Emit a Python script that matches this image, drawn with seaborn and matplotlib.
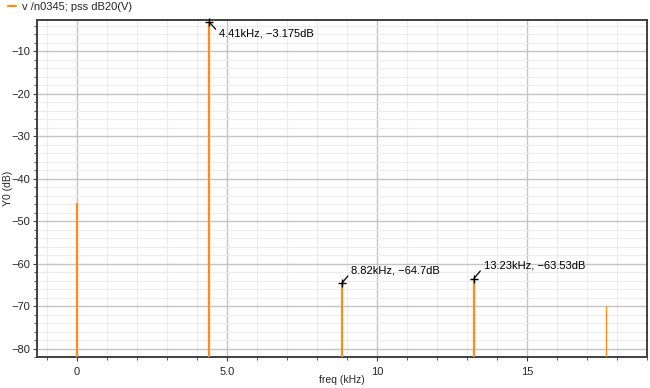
import matplotlib
matplotlib.use("Agg")
import matplotlib.pyplot as plt
from matplotlib.ticker import MultipleLocator, FuncFormatter
from matplotlib.lines import Line2D
import seaborn as sns
import pandas as pd

freq_khz = [0.0, 4.41, 8.82, 13.23, 17.64]
level_db = [-45.8, -3.175, -64.7, -63.53, -70.1]
marked_freq = [4.41, 8.82, 13.23]
marked_db = [-3.175, -64.7, -63.53]
marked_labels = ["4.41kHz, \u22123.175dB", "8.82kHz, \u221264.7dB", "13.23kHz, \u221263.53dB"]
series_name = "v /n0345; pss dB20(V)"

sns.set_style("white")
plt.rcParams["font.family"] = ["Liberation Sans", "DejaVu Sans"]

fig = plt.figure(figsize=(6.5, 3.88), dpi=100)
ax = fig.add_axes([37 / 650, 31 / 388, 610 / 650, 337 / 388])

ymin, ymax = -82.0, -2.7
ax.set_xlim(-1.33, 19.0)
ax.set_ylim(ymin, ymax)

orange = "#ff8c1a"
df = pd.DataFrame({"f": freq_khz, "db": level_db})
lw = [1.6, 1.6, 1.6, 1.6, 1.0]
for f, d, w in zip(df["f"], df["db"], lw):
    ax.vlines(f, ymin, d, color=orange, linewidth=w, zorder=3)

mk = pd.DataFrame({"f": marked_freq, "db": marked_db})
sns.scatterplot(data=mk, x="f", y="db", marker="+", color="black", s=40,
                linewidth=1.0, ax=ax, zorder=5, clip_on=False)
for f, d, lab in zip(marked_freq, marked_db, marked_labels):
    down = d > -10
    ax.annotate(lab, xy=(f, d), xytext=(7, -5 if down else 6),
                textcoords="offset points", fontsize=8, color="black",
                va="top" if down else "bottom", ha="left",
                arrowprops=dict(arrowstyle="-", color="black", lw=0.9,
                                shrinkA=0, shrinkB=0,
                                relpos=(0, 0.6) if down else (0, 0.3)),
                zorder=6)

ax.xaxis.set_major_locator(MultipleLocator(5))
ax.xaxis.set_minor_locator(MultipleLocator(1))
ax.yaxis.set_major_locator(MultipleLocator(10))
ax.yaxis.set_minor_locator(MultipleLocator(2))

def xfmt(v, p):
    if abs(v) < 1e-9:
        return "0"
    if abs(v - 5) < 1e-9:
        return "5.0"
    return f"{v:g}"

ax.xaxis.set_major_formatter(FuncFormatter(xfmt))
ax.yaxis.set_major_formatter(FuncFormatter(lambda v, p: f"\u2212{abs(v):g}" if v < 0 else f"{v:g}"))

ax.grid(which="major", color="#c4c4c4", linewidth=1.0, zorder=0)
ax.grid(which="minor", color="#ececec", linewidth=0.8, zorder=0)
ax.set_axisbelow(True)

for s in ax.spines.values():
    s.set_color("#404040")
    s.set_linewidth(1.4)

ax.tick_params(axis="both", which="major", labelsize=8, length=3, width=0.8,
               color="#404040", direction="out", bottom=True, left=True, pad=2)
ax.tick_params(axis="both", which="minor", length=2, width=0.6,
               color="#404040", direction="out", bottom=True, left=True)
ax.tick_params(axis="x", pad=4)

ax.set_xlabel("freq (kHz)", fontsize=7.5, va="center")
ax.set_ylabel("Y0 (dB)", fontsize=7.5, va="center")
ax.xaxis.set_label_coords(0.5, -23 / 337)
ax.yaxis.set_label_coords(-29 / 610, 0.5)

handle = Line2D([], [], color=orange, linewidth=1.6)
fig.legend([handle], [series_name], loc="center left", bbox_to_anchor=(5 / 650, 1 - 7 / 388),
           frameon=False, fontsize=8, handlelength=0.7, handletextpad=0.5,
           borderaxespad=0.0, borderpad=0.3)

fig.savefig("out.png", dpi=100)
